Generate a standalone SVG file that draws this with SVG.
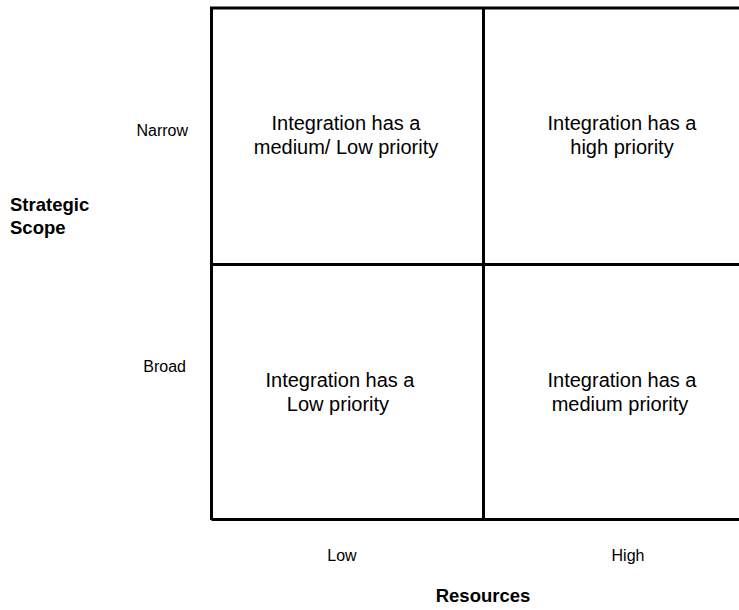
<svg xmlns="http://www.w3.org/2000/svg" width="739" height="610" viewBox="0 0 739 610">
<style>
.ln{stroke:#000;stroke-width:3;fill:none}
.t{font-family:"Liberation Sans",Arial,sans-serif;font-size:20px;fill:#000;text-anchor:middle}
.lb{font-family:"Liberation Sans",Arial,sans-serif;font-size:16px;fill:#000}
.b{font-family:"Liberation Sans",Arial,sans-serif;font-size:18.5px;font-weight:bold;fill:#000}
</style>
<rect width="739" height="610" fill="#fff"/>
<g id="connectors">
<path class="ln" d="M211.5,520 V8 H739"/>
<path class="ln" d="M211.5,519.5 H739"/>
<path class="ln" d="M483.5,8 V519.5"/>
<path class="ln" d="M211.5,264.5 H739"/>
</g>
<g id="cell-narrow-low"><text class="t" x="346" y="130">Integration has a</text><text class="t" x="346" y="154">medium/ Low priority</text></g>
<g id="cell-narrow-high"><text class="t" x="622" y="130">Integration has a</text><text class="t" x="622" y="154">high priority</text></g>
<g id="cell-broad-low"><text class="t" x="340" y="387">Integration has a</text><text class="t" x="338" y="411">Low priority</text></g>
<g id="cell-broad-high"><text class="t" x="622" y="387">Integration has a</text><text class="t" x="620" y="411">medium priority</text></g>
<g id="axis-y"><text class="lb" x="188" y="136" text-anchor="end">Narrow</text><text class="lb" x="186" y="372" text-anchor="end">Broad</text><text class="b" x="10" y="211">Strategic</text><text class="b" x="10" y="234">Scope</text></g>
<g id="axis-x"><text class="lb" x="342" y="561" text-anchor="middle">Low</text><text class="lb" x="628" y="561" text-anchor="middle">High</text><text class="b" x="483" y="602" text-anchor="middle">Resources</text></g>
</svg>
